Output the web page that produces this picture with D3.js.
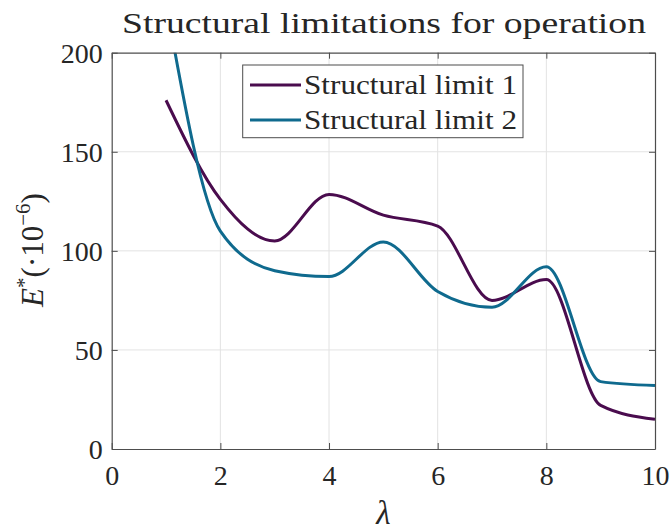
<!DOCTYPE html>
<html>
<head>
<meta charset="utf-8">
<script src="https://cdn.jsdelivr.net/npm/d3@7"></script>
<style>
  html, body { margin: 0; padding: 0; background: #fff; }
  svg { display: block; }
  text { font-family: "Liberation Serif", "DejaVu Serif", serif; fill: #262626; }
</style>
</head>
<body>
<svg id="chart" width="671" height="530"></svg>
<script>
// Tip speed ratio samples and the two structural limits (E*, units of 1e-6)
const lambda = [1, 2, 3, 4, 5, 6, 7, 8, 9, 10];
const limit1 = [176, 126, 105, 128.5, 118, 112.5, 75, 85.5, 22, 15];
const limit2 = [225, 110, 90, 87, 104.5, 79.5, 71.5, 92, 34, 32];
const seriesNames = ["Structural limit 1", "Structural limit 2"];
const seriesColors = ["#4a0c4e", "#0f6a8e"];
const xTicks = [0, 2, 4, 6, 8, 10];
const yTicks = [0, 50, 100, 150, 200];

const svg = d3.select("#chart");
const pLeft = 111.7, pRight = 655, pTop = 52.7, pBottom = 449;
const w = pRight - pLeft, h = pBottom - pTop;

const x = d3.scaleLinear().domain([0, 10]).range([pLeft, pRight]);
const y = d3.scaleLinear().domain([0, 200]).range([pBottom, pTop]);

// grid
const grid = svg.append("g").attr("stroke", "#e3e3e3").attr("stroke-width", 1);
xTicks.slice(1, -1).forEach(t => grid.append("line")
  .attr("x1", x(t)).attr("x2", x(t)).attr("y1", pTop).attr("y2", pBottom));
yTicks.slice(1, -1).forEach(t => grid.append("line")
  .attr("x1", pLeft).attr("x2", pRight).attr("y1", y(t)).attr("y2", y(t)));

// clip region
svg.append("clipPath").attr("id", "plotClip")
  .append("rect").attr("x", pLeft).attr("y", pTop).attr("width", w).attr("height", h);

const line = d3.line().x((d, i) => x(lambda[i])).y(d => y(d)).curve(d3.curveMonotoneX);
const plot = svg.append("g").attr("clip-path", "url(#plotClip)");
[limit1, limit2].forEach((s, k) => plot.append("path")
  .attr("d", line(s)).attr("fill", "none")
  .attr("stroke", seriesColors[k]).attr("stroke-width", 3)
  .attr("stroke-linejoin", "round"));

// axes: bottom and left with inward ticks, mirrored on top and right
const axisColor = "#4d4d4d";
const tl = 6;
const xb = d3.axisBottom(x).tickValues(xTicks).tickSizeInner(-tl).tickSizeOuter(0);
const yl = d3.axisLeft(y).tickValues(yTicks).tickSizeInner(-tl).tickSizeOuter(0).tickPadding(9);
const xt = d3.axisTop(x).tickValues(xTicks).tickSizeInner(-tl).tickSizeOuter(0).tickFormat("");
const yr = d3.axisRight(y).tickValues(yTicks).tickSizeInner(-tl).tickSizeOuter(0).tickFormat("");

function style(g) {
  g.select(".domain").attr("stroke", axisColor).attr("stroke-width", 1.2);
  g.selectAll(".tick line").attr("stroke", axisColor).attr("stroke-width", 1);
  g.selectAll(".tick text").attr("fill", "#262626").style("font-size", "28px")
    .style("font-family", "'Liberation Serif', serif").attr("dy", null);
}
svg.append("g").attr("transform", `translate(0,${pBottom})`).call(xb).call(style)
  .selectAll(".tick text").attr("dominant-baseline", "alphabetic").attr("y", 36);
svg.append("g").attr("transform", `translate(${pLeft},0)`).call(yl).call(style)
  .selectAll(".tick text").attr("dominant-baseline", "alphabetic").attr("y", 9.5);
svg.append("g").attr("transform", `translate(0,${pTop})`).call(xt).call(style);
svg.append("g").attr("transform", `translate(${pRight},0)`).call(yr).call(style);

// title
svg.append("text").attr("x", 122).attr("y", 33)
  .attr("textLength", 524).attr("lengthAdjust", "spacingAndGlyphs")
  .style("font-size", "30px")
  .text("Structural limitations for operation");

// x label
svg.append("text").attr("x", (pLeft + pRight) / 2).attr("y", 524)
  .attr("text-anchor", "middle").style("font-size", "33px").style("font-style", "italic")
  .text("λ");

// y label
const ylab = svg.append("text").attr("transform", `translate(43,250) rotate(-90)`)
  .attr("text-anchor", "middle").style("font-size", "31px");
ylab.append("tspan").style("font-style", "italic").text("E");
ylab.append("tspan").attr("dy", -12).style("font-size", "21px").text("*");
ylab.append("tspan").attr("dy", 12).text("(·10");
ylab.append("tspan").attr("dy", -13).style("font-size", "21px").text("−6");
ylab.append("tspan").attr("dy", 13).text(")");

// legend
const lg = svg.append("g");
lg.append("rect").attr("x", 242.7).attr("y", 65).attr("width", 280.3).attr("height", 72.7)
  .attr("fill", "#fff").attr("stroke", axisColor).attr("stroke-width", 1);
seriesNames.forEach((n, k) => {
  const cy = 85 + k * 35;
  lg.append("line").attr("x1", 250).attr("x2", 301).attr("y1", cy).attr("y2", cy)
    .attr("stroke", seriesColors[k]).attr("stroke-width", 3);
  lg.append("text").attr("x", 304).attr("y", cy + 9)
    .attr("textLength", 213).attr("lengthAdjust", "spacingAndGlyphs")
    .style("font-size", "27px").text(n);
});
</script>
</body>
</html>
